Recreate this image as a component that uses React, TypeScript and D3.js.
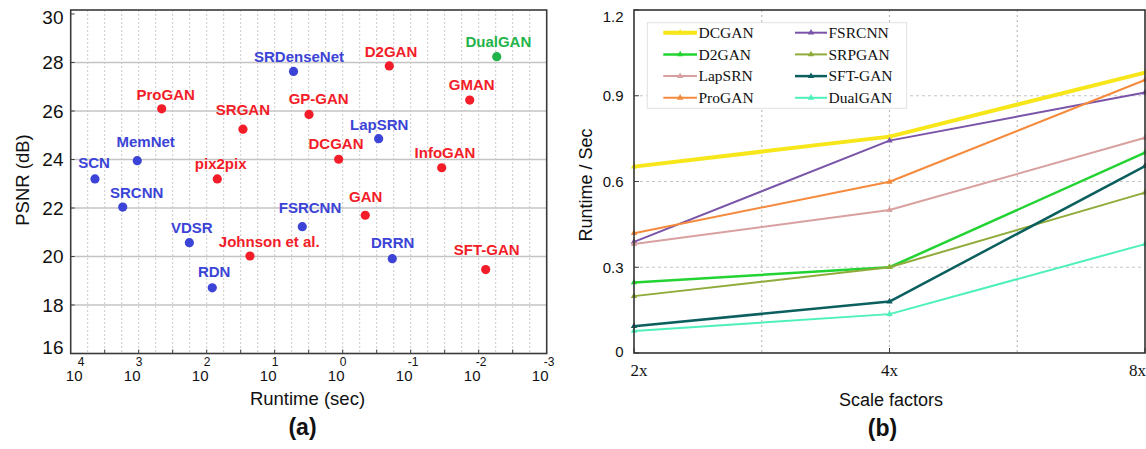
import React from "react";
import * as d3 from "d3";

// ---------- Data: panel (a) ----------
const methods = ["SCN", "MemNet", "SRCNN", "ProGAN", "pix2pix", "SRGAN", "SRDenseNet", "D2GAN", "DualGAN", "GMAN", "GP-GAN", "LapSRN", "DCGAN", "InfoGAN", "GAN", "FSRCNN", "VDSR", "Johnson et al.", "RDN", "DRRN", "SFT-GAN"];
const runtimeSec = [4395, 1050, 1718, 459, 69.8, 29.3, 5.29, 0.2065, 0.00543, 0.01355, 3.13, 0.296, 1.146, 0.035, 0.466, 3.93, 180, 23.1, 82.8, 0.1866, 0.00789];
const psnrDb = [23.2, 23.95, 22.04, 26.09, 23.2, 25.25, 27.63, 27.86, 28.24, 26.45, 25.86, 24.86, 24.01, 23.66, 21.7, 21.23, 20.57, 20.02, 18.71, 19.91, 19.46];
const methodGroup = ["sr", "sr", "sr", "gan", "gan", "gan", "sr", "gan", "dual", "gan", "gan", "sr", "gan", "gan", "gan", "sr", "sr", "gan", "sr", "sr", "gan"];
const psnrTicks = [16, 18, 20, 22, 24, 26, 28, 30];
const runtimeDecades = [4, 3, 2, 1, 0, -1, -2, -3];

// ---------- Data: panel (b) ----------
const scaleFactors = ["2x", "4x", "8x"];
const seriesNames = ["DCGAN", "FSRCNN", "D2GAN", "SRPGAN", "LapSRN", "SFT-GAN", "ProGAN", "DualGAN"];
const seriesValues = [
  [0.652, 0.757, 0.981],
  [0.389, 0.743, 0.911],
  [0.247, 0.3, 0.701],
  [0.199, 0.3, 0.561],
  [0.381, 0.5, 0.753],
  [0.094, 0.18, 0.654],
  [0.419, 0.599, 0.955],
  [0.077, 0.136, 0.381],
];
const runtimeTicks = [0, 0.3, 0.6, 0.9, 1.2];

// ---------- Styles / layout ----------
const SANS = "'Liberation Sans', Arial, Helvetica, sans-serif";
const SERIF = "'Liberation Serif', 'Times New Roman', serif";
const groupColor: Record<string, string> = { sr: "#3b44d6", gan: "#f21d28", dual: "#1fb34a" };
const seriesColor = ["#f7e61a", "#7a54a8", "#22d332", "#8fab3a", "#d9a0a0", "#0c5f5f", "#f58a3c", "#4df0bb"];
const seriesWidth = [4, 2, 2.5, 2, 2, 2.5, 2, 2];
// label offsets (center of label relative to dot)
const labelOffset: [number, number][] = [
  [-1, -16], [8.4, -19], [14, -14.7], [4, -14.7], [3.4, -15], [0, -19.3], [5.5, -15], [1.7, -14.3], [1.6, -14.7], [2, -15.7], [9.7, -16], [0.6, -14.4], [-2.7, -16], [3.3, -15.4], [0.4, -18.6], [7.7, -19.4], [2.4, -15.4], [19.3, -14.5], [1.9, -16], [0.4, -16], [1, -19.7],
];

function PanelA() {
  const left = 70.7, right = 546.7, top = 10;
  const x = d3.scaleLog().domain([1e4, 1e-3]).range([left, right]);
  const y = d3.scaleLinear().domain([16, 30]).range([353.5, 14]);
  const bottom = y(16);
  const quarter = d3.range(-12, 17).map((k) => Math.pow(10, k / 4));
  const half = d3.range(-6, 9).map((k) => Math.pow(10, k / 2));
  return (
    <g>
      {/* vertical dotted grid */}
      {quarter.map((v, i) => {
        const px = x(v);
        if (px <= left + 1 || px >= right - 1) return null;
        return <line key={"vg" + i} x1={px} x2={px} y1={top} y2={bottom} stroke="#c9c9c9" strokeWidth={1} strokeDasharray="2,2" />;
      })}
      {/* horizontal grid */}
      {psnrTicks.slice(1, -1).map((t) => (
        <line key={"hg" + t} x1={left} x2={right} y1={y(t)} y2={y(t)} stroke="#c4c4c4" strokeWidth={1.3} />
      ))}
      {/* x ticks */}
      {half.map((v, i) => {
        const px = x(v);
        if (px <= left + 1 || px >= right - 1) return null;
        return <line key={"xt" + i} x1={px} x2={px} y1={bottom} y2={bottom - 4} stroke="#444" strokeWidth={1} />;
      })}
      {psnrTicks.map((t) => (
        <line key={"yt" + t} x1={left} x2={left + 4} y1={y(t)} y2={y(t)} stroke="#444" strokeWidth={1} />
      ))}
      <rect x={left} y={top} width={right - left} height={bottom - top} fill="none" stroke="#3a3a3a" strokeWidth={1.6} />
      {/* y tick labels */}
      {psnrTicks.map((t) => (
        <text key={"yl" + t} x={63.5} y={Math.min(347, Math.max(17.3, y(t)))} dy="0.36em" textAnchor="end" fontFamily={SANS} fontSize={19} fill="#111">
          {t}
        </text>
      ))}
      {/* x tick labels 10^n */}
      {runtimeDecades.map((e) => {
        const cx = Math.max(left + 3.5, x(Math.pow(10, e)) - 6.5);
        return (
          <g key={"xl" + e}>
            <text x={cx} y={380.5} textAnchor="middle" fontFamily={SANS} fontSize={15} fill="#111">10</text>
            <text x={cx + 3.5} y={365.5} textAnchor="start" fontFamily={SANS} fontSize={12} fill="#111">{String(e).replace("-", "-")}</text>
          </g>
        );
      })}
      {/* points */}
      {methods.map((m, i) => {
        const px = x(runtimeSec[i]);
        const py = y(psnrDb[i]);
        const c = groupColor[methodGroup[i]];
        const [dx, dy] = labelOffset[i];
        return (
          <g key={m}>
            <circle cx={px} cy={py} r={4.6} fill={c} />
            <text x={px + dx} y={py + dy + 5.4} textAnchor="middle" fontFamily={SANS} fontWeight="bold" fontSize={15} fill={c}>
              {m}
            </text>
          </g>
        );
      })}
      <text transform={`translate(22.5,180) rotate(-90)`} textAnchor="middle" fontFamily={SANS} fontSize={18.5} fill="#111" dy="0.35em">
        PSNR (dB)
      </text>
      <text x={307.5} y={404.5} textAnchor="middle" fontFamily={SANS} fontSize={18.5} fill="#111">
        Runtime (sec)
      </text>
      <text x={302.5} y={435} textAnchor="middle" fontFamily={SANS} fontWeight="bold" fontSize={23} fill="#111">
        (a)
      </text>
    </g>
  );
}

function PanelB() {
  const left = 634, right = 1145, top = 10, bottom = 353;
  const x = d3.scalePoint().domain(scaleFactors).range([left, right]);
  const xi = d3.scaleLinear().domain([0, scaleFactors.length - 1]).range([left, right]);
  const y = d3.scaleLinear().domain([0, 1.2]).range([bottom, top]);
  const line = d3
    .line<number>()
    .x((_, i) => x(scaleFactors[i]) as number)
    .y((v) => y(v));
  const tri = d3.symbol().type(d3.symbolTriangle).size(18)() as string;
  const legX = 647.3, legY = 22.7, legW = 259.4, legH = 85.6;
  return (
    <g>
      {/* grid */}
      {[0.5, 1, 1.5].map((k) => (
        <line key={"vg" + k} x1={xi(k)} x2={xi(k)} y1={top} y2={bottom} stroke="#bdbdbd" strokeWidth={1.2} strokeDasharray="2,3" />
      ))}
      {runtimeTicks.slice(1, -1).map((t) => (
        <line key={"hg" + t} x1={left} x2={right} y1={y(t)} y2={y(t)} stroke="#c6c6c6" strokeWidth={1.2} strokeDasharray="3,3" />
      ))}
      {runtimeTicks.map((t) => (
        <line key={"yt" + t} x1={left} x2={left + 5} y1={y(t)} y2={y(t)} stroke="#444" strokeWidth={1} />
      ))}
      {scaleFactors.map((s) => (
        <line key={"xt" + s} x1={x(s)} x2={x(s)} y1={bottom} y2={bottom - 5} stroke="#444" strokeWidth={1} />
      ))}
      {/* series */}
      {seriesNames.map((n, si) => (
        <g key={n}>
          <path d={line(seriesValues[si]) as string} fill="none" stroke={seriesColor[si]} strokeWidth={seriesWidth[si]} strokeLinejoin="round" />
          {seriesValues[si].map((v, i) => (
            <path key={i} d={tri} transform={`translate(${x(scaleFactors[i])},${y(v)})`} fill={seriesColor[si]} />
          ))}
        </g>
      ))}
      <rect x={left} y={top} width={right - left} height={bottom - top} fill="none" stroke="#333" strokeWidth={1.6} />
      {/* legend */}
      <rect x={legX} y={legY} width={legW} height={legH} fill="#fff" stroke="#e2e2e2" strokeWidth={1} />
      {seriesNames.map((n, si) => {
        const col = si % 2;
        const row = Math.floor(si / 2);
        const lx1 = col === 0 ? 663.3 : 795;
        const lx2 = col === 0 ? 697 : 827;
        const ly = 32.7 + row * 21.7;
        return (
          <g key={"lg" + n}>
            <line x1={lx1} x2={lx2} y1={ly} y2={ly} stroke={seriesColor[si]} strokeWidth={seriesWidth[si]} />
            <path d={tri} transform={`translate(${(lx1 + lx2) / 2},${ly})`} fill={seriesColor[si]} />
            <text x={lx2 + 1.5} y={ly} dy="0.33em" fontFamily={SERIF} fontSize={15.5} fill="#111">
              {n}
            </text>
          </g>
        );
      })}
      {/* tick labels */}
      {runtimeTicks.map((t) => (
        <text key={"yl" + t} x={623.5} y={Math.max(16.7, Math.min(351.7, y(t)))} dy="0.36em" textAnchor="end" fontFamily={SANS} fontSize={15} fill="#111">
          {t === 0 ? "0" : t.toFixed(1)}
        </text>
      ))}
      {scaleFactors.map((s, i) => (
        <text
          key={"xl" + s}
          x={i === 0 ? left - 3.5 : i === scaleFactors.length - 1 ? right + 1 : (x(s) as number)}
          y={375.5}
          textAnchor={i === 0 ? "start" : i === scaleFactors.length - 1 ? "end" : "middle"}
          fontFamily={SERIF}
          fontSize={17}
          fill="#111"
        >
          {s}
        </text>
      ))}
      <text transform={`translate(586,185) rotate(-90)`} textAnchor="middle" dy="0.35em" fontFamily={SANS} fontSize={18} fill="#111">
        Runtime / Sec
      </text>
      <text x={891} y={406} textAnchor="middle" fontFamily={SANS} fontSize={18} fill="#111">
        Scale factors
      </text>
      <text x={882.5} y={436} textAnchor="middle" fontFamily={SANS} fontWeight="bold" fontSize={23} fill="#111">
        (b)
      </text>
    </g>
  );
}

export default function App() {
  return (
    <svg
      width={1146}
      height={449}
      viewBox="0 0 1146 449"
      style={{ position: "absolute", left: 0, top: 0, background: "#fff" }}
    >
      <rect x={0} y={0} width={1146} height={449} fill="#fff" />
      <PanelA />
      <PanelB />
    </svg>
  );
}
